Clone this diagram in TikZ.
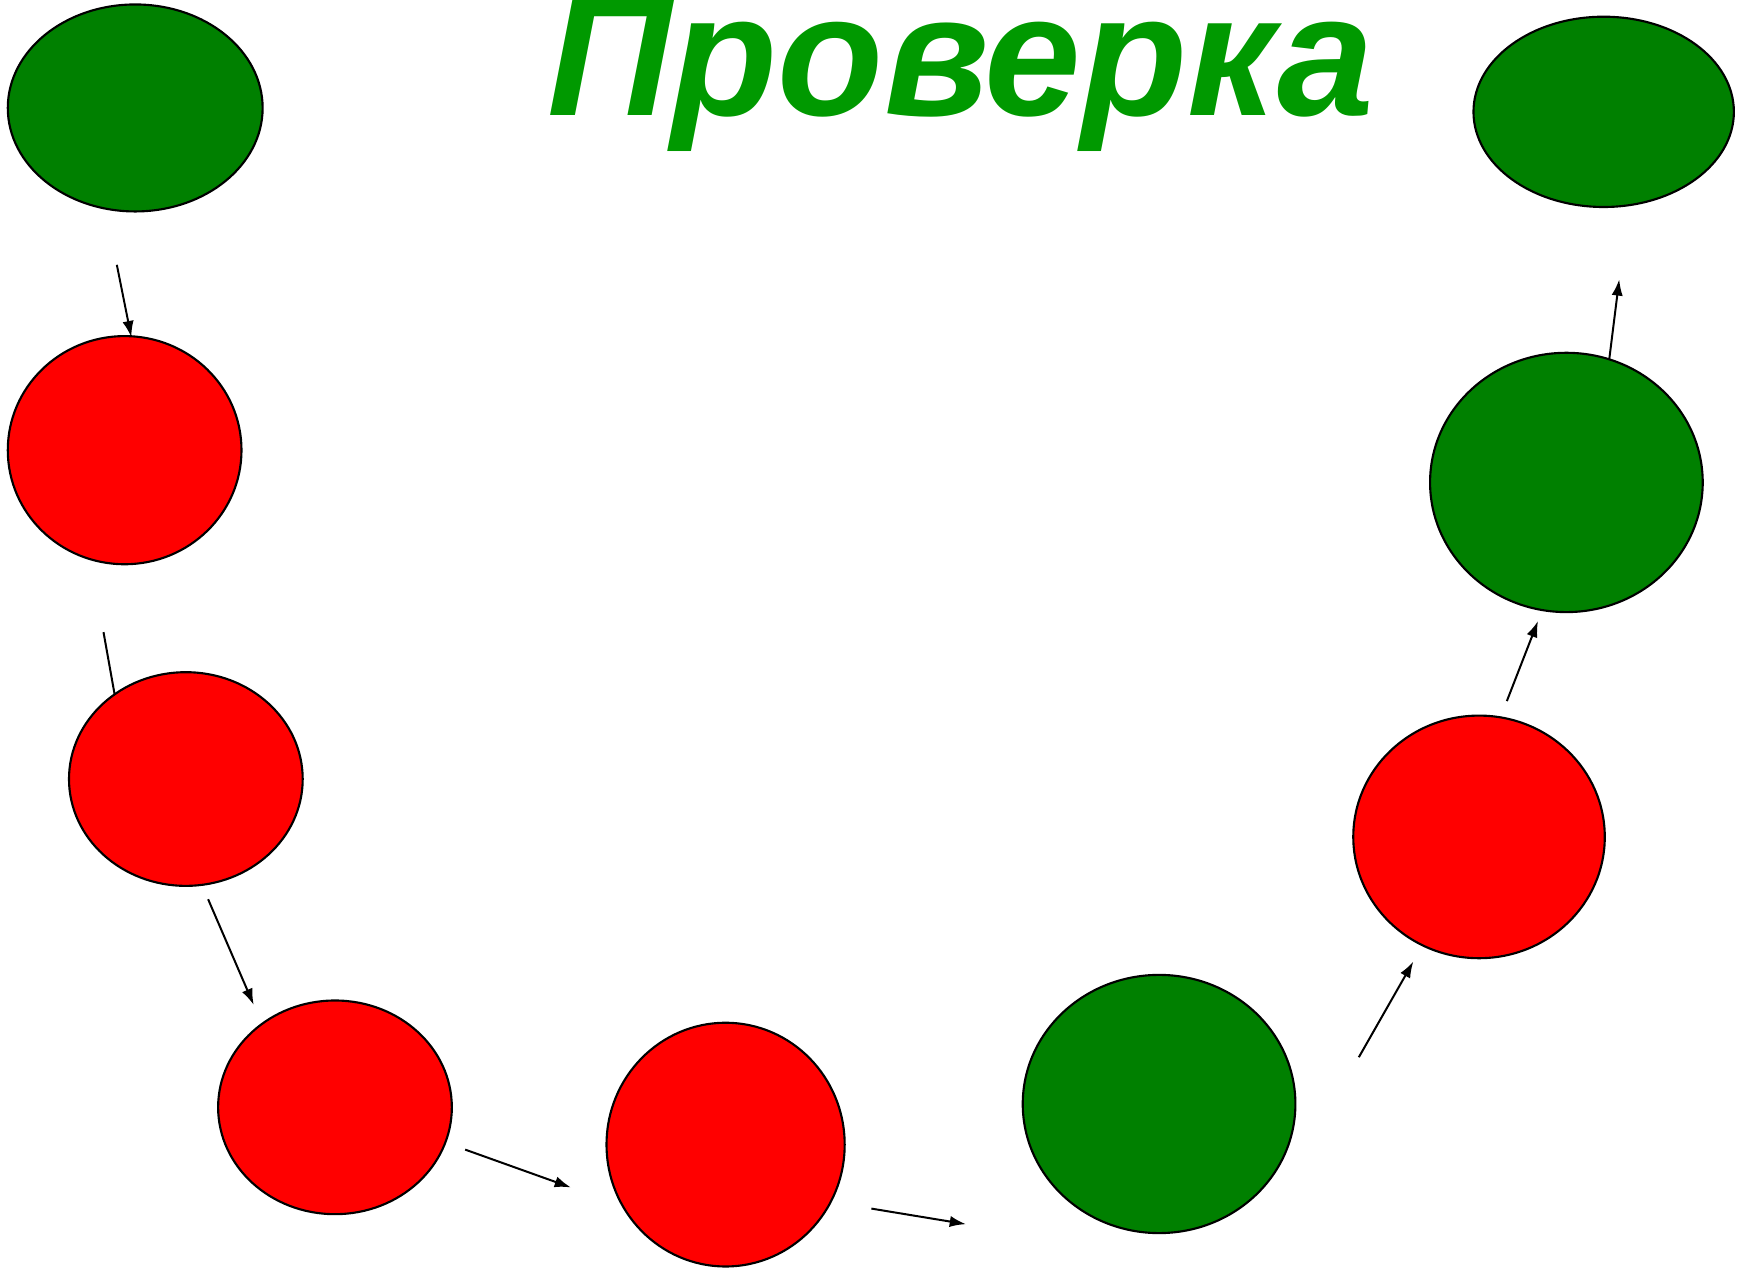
\documentclass[tikz,border=0pt]{standalone}
\usepackage{fontspec}
\setmainfont{Liberation Sans}
\usepackage{tikz}
\usetikzlibrary{arrows.meta,shapes.geometric}

\definecolor{ballgreen}{RGB}{0,128,0}
\definecolor{ballred}{RGB}{255,0,0}
\definecolor{titlegreen}{RGB}{0,153,0}

\tikzset{
    ball/.style={ellipse, draw=black, line width=0.85pt, inner sep=0pt},
    greenball/.style={ball, fill=ballgreen},
    redball/.style={ball, fill=ballred},
    arr/.style={line width=0.8pt, -{Latex[length=6.5pt,width=4.5pt]}},
}

\begin{document}
\begin{tikzpicture}[x=1pt, y=-1pt, scale=0.44516, transform shape]
        \useasboundingbox (0,0) rectangle (1568,1139.4);

        \node[font=\fontsize{156}{156}\selectfont\bfseries\itshape, text=titlegreen, inner sep=0pt, anchor=base] (title) at (863,103.5) {Проверка};

        \node[greenball, minimum width=229pt, minimum height=186pt] (1) at (121.5,97) {};
        \node[redball, minimum width=210pt, minimum height=205pt] (2) at (112,404.5) {};
        \node[redball, minimum width=210pt, minimum height=192pt] (3) at (167,700) {};
        \node[redball, minimum width=210pt, minimum height=192pt] (4) at (301,995) {};
        \node[redball, minimum width=214pt, minimum height=219pt] (5) at (652,1028.5) {};
        \node[greenball, minimum width=245pt, minimum height=232pt] (6) at (1041.5,992) {};
        \node[redball, minimum width=226pt, minimum height=218pt] (7) at (1329,752) {};
        \node[greenball, minimum width=245pt, minimum height=233pt] (8) at (1407.5,433.5) {};
        \node[greenball, minimum width=234pt, minimum height=171pt] (9) at (1441,100.5) {};

        \coordinate (s1) at (105,238);  \coordinate (e1) at (118,303);
        \coordinate (s2) at (93,568);   \coordinate (e2) at (103,624);
        \coordinate (s3) at (187,808);  \coordinate (e3) at (228,903);
        \coordinate (s4) at (418,1033); \coordinate (e4) at (513,1067);
        \coordinate (s5) at (783,1086); \coordinate (e5) at (868,1100);
        \coordinate (s6) at (1221,950); \coordinate (e6) at (1270,864);
        \coordinate (s7) at (1354,630); \coordinate (e7) at (1382,558);
        \coordinate (s8) at (1446,323); \coordinate (e8) at (1455,251);

        \draw[arr] (s1) -- (e1);
        \draw[line width=0.8pt] (s2) -- (e2);
        \draw[arr] (s3) -- (e3);
        \draw[arr] (s4) -- (e4);
        \draw[arr] (s5) -- (e5);
        \draw[arr] (s6) -- (e6);
        \draw[arr] (s7) -- (e7);
        \draw[arr] (s8) -- (e8);
    \end{tikzpicture}
\end{document}
